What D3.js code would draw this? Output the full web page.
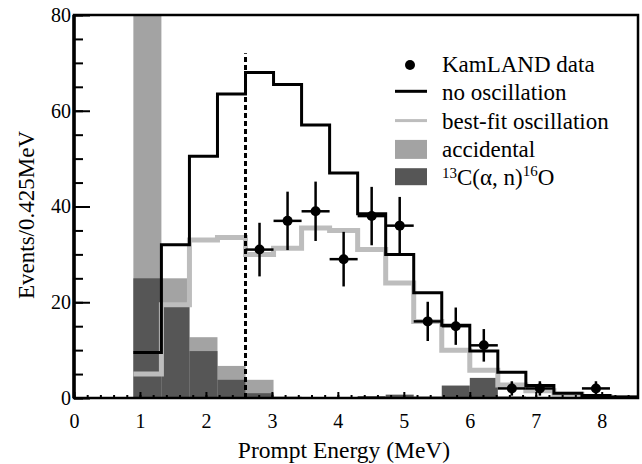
<!DOCTYPE html>
<html lang="en">
<head>
<meta charset="utf-8">
<title>KamLAND prompt energy spectrum</title>
<script src="https://d3js.org/d3.v7.min.js"></script>
<style>
  body { margin: 0; background: #fff; }
  svg text { font-family: "Liberation Serif", "DejaVu Serif", serif; fill: #000; }
  .axis path { display: none; }
  .axis line { stroke: #000; stroke-width: 2px; }
  .axis text { font-size: 20px; }
</style>
</head>
<body>
<div id="chart"></div>
<script>
// bin edges in MeV (0.425 MeV bins)
var binEdges = [0.9, 1.325, 1.75, 2.175, 2.6, 3.025, 3.45, 3.875, 4.3, 4.725,
                5.15, 5.575, 6.0, 6.425, 6.85, 7.275, 7.7, 8.125, 8.55];

// expected events per bin
var noOscillation = [9.5, 32, 50.5, 63.5, 68, 65.5, 57, 47, 38.5, 30, 22, 15.2, 9.8, 5.4, 2.6, 1.0, 0.5, 0.2];
var bestFit       = [5, 19.5, 33, 33.5, 30, 31.3, 35.5, 35, 31, 24, 16, 10, 5.8, 2.7, 1.5, 0.8, 0.3, 0.1];
var accidental    = [85, 25, 12.7, 6.7, 3.8, 0.3, 0.2, 0.2, 0.2, 0.3, 0.2, 0.1, 0.1, 0.1, 0, 0, 0, 0];
var alphaN        = [25, 19.5, 9.8, 3.8, 1.0, 0.2, 0.1, 0.1, 0.4, 0.7, 0.3, 2.6, 4.2, 0.3, 0.2, 0, 0, 0];

// KamLAND data points
var dataEnergy = [2.8125, 3.2375, 3.6625, 4.0875, 4.5125, 4.9375, 5.3625, 5.7875, 6.2125, 6.6375, 7.0625, 7.9125];
var dataEvents = [31, 37, 39, 29, 38, 36, 16, 15, 11, 2, 2, 2];
var dataError  = [5.6, 6.1, 6.2, 5.7, 6.1, 6.0, 4.1, 3.9, 3.4, 1.5, 1.5, 1.5];
var halfBin = 0.2125;

var threshold = 2.6;
var thresholdTop = 72;

var xTicks = [0, 1, 2, 3, 4, 5, 6, 7, 8];
var yTicks = [0, 20, 40, 60, 80];

var legendLabels = ["KamLAND data", "no oscillation", "best-fit oscillation", "accidental", "13C"];

var W = 642, H = 464;
var margin = {top: 15, left: 74, right: 4, bottom: 66};
var width = W - margin.left - margin.right,
    height = H - margin.top - margin.bottom;

var accColor = "#a3a3a3", alphaColor = "#565656", fitColor = "#bdbdbd";

var svg = d3.select("#chart").append("svg")
    .attr("width", W).attr("height", H);

var g = svg.append("g").attr("transform", "translate(" + margin.left + "," + margin.top + ")");

var x = d3.scaleLinear().domain([0, 8.55]).range([0, width]);
var y = d3.scaleLinear().domain([0, 80]).range([height, 0]);

svg.append("defs").append("clipPath").attr("id", "plotClip")
    .append("rect").attr("width", width).attr("height", height);

var plot = g.append("g").attr("clip-path", "url(#plotClip)");

function bins(values) {
    return values.map(function(v, i) { return {x0: binEdges[i], x1: binEdges[i + 1], v: v}; });
}

// background fills
plot.selectAll("rect.acc").data(bins(accidental)).enter().append("rect")
    .attr("class", "acc")
    .attr("x", function(d) { return x(d.x0); })
    .attr("width", function(d) { return x(d.x1) - x(d.x0); })
    .attr("y", function(d) { return y(d.v); })
    .attr("height", function(d) { return height - y(d.v); })
    .attr("fill", accColor);

plot.selectAll("rect.an").data(bins(alphaN)).enter().append("rect")
    .attr("class", "an")
    .attr("x", function(d) { return x(d.x0); })
    .attr("width", function(d) { return x(d.x1) - x(d.x0); })
    .attr("y", function(d) { return y(d.v); })
    .attr("height", function(d) { return height - y(d.v); })
    .attr("fill", alphaColor);

// step histograms
function stepPoints(values) {
    var pts = values.map(function(v, i) { return [binEdges[i], v]; });
    pts.push([binEdges[binEdges.length - 1], 0]);
    return pts;
}
var step = d3.line()
    .x(function(d) { return x(d[0]); })
    .y(function(d) { return y(d[1]); })
    .curve(d3.curveStepAfter);

plot.append("path").datum(stepPoints(bestFit))
    .attr("d", step).attr("fill", "none")
    .attr("stroke", fitColor).attr("stroke-width", 5);

plot.append("path").datum(stepPoints(noOscillation))
    .attr("d", step).attr("fill", "none")
    .attr("stroke", "#000").attr("stroke-width", 3);

// analysis threshold
g.append("line")
    .attr("x1", x(threshold)).attr("x2", x(threshold))
    .attr("y1", y(0)).attr("y2", y(thresholdTop))
    .attr("stroke", "#000").attr("stroke-width", 3)
    .attr("stroke-dasharray", "5,3");

// data points with error bars
var pts = g.selectAll("g.pt").data(dataEnergy).enter().append("g").attr("class", "pt");
pts.append("line")
    .attr("x1", function(d) { return x(d); }).attr("x2", function(d) { return x(d); })
    .attr("y1", function(d, i) { return y(dataEvents[i] + dataError[i]); })
    .attr("y2", function(d, i) { return y(Math.max(0, dataEvents[i] - dataError[i])); })
    .attr("stroke", "#000").attr("stroke-width", 2.5);
pts.append("line")
    .attr("x1", function(d) { return x(d - halfBin); }).attr("x2", function(d) { return x(d + halfBin); })
    .attr("y1", function(d, i) { return y(dataEvents[i]); })
    .attr("y2", function(d, i) { return y(dataEvents[i]); })
    .attr("stroke", "#000").attr("stroke-width", 2.5);
pts.append("circle")
    .attr("cx", function(d) { return x(d); })
    .attr("cy", function(d, i) { return y(dataEvents[i]); })
    .attr("r", 5).attr("fill", "#000");

// axes (inward ticks)
g.append("g").attr("class", "axis")
    .attr("transform", "translate(0," + height + ")")
    .call(d3.axisBottom(x).tickValues(d3.range(0, 8.55, 0.2)).tickSize(-3).tickFormat(""));
g.append("g").attr("class", "axis")
    .attr("transform", "translate(0," + height + ")")
    .call(d3.axisBottom(x).tickValues(xTicks).tickSize(-6).tickPadding(16).tickFormat(d3.format("d")));

g.append("g").attr("class", "axis")
    .call(d3.axisLeft(y).tickValues(d3.range(0, 81, 5)).tickSize(-9).tickFormat(""));
g.append("g").attr("class", "axis")
    .call(d3.axisLeft(y).tickValues(yTicks).tickSize(-16).tickPadding(3).tickFormat(d3.format("d")));

// frame
g.append("rect").attr("width", width).attr("height", height)
    .attr("fill", "none").attr("stroke", "#000").attr("stroke-width", 2.5);
g.append("line").attr("x1", 0).attr("x2", 0).attr("y1", 0).attr("y2", height)
    .attr("stroke", "#000").attr("stroke-width", 3.5);

// axis titles
svg.append("text")
    .attr("x", margin.left + width / 2 - 12).attr("y", 458)
    .attr("text-anchor", "middle").style("font-size", "23.5px")
    .text("Prompt Energy (MeV)");
svg.append("text")
    .attr("transform", "translate(34,215) rotate(-90)")
    .attr("text-anchor", "middle").style("font-size", "23px")
    .text("Events/0.425MeV");

// legend
var lg = svg.append("g").attr("transform", "translate(395,0)");
var rowY = function(i) { return 72 + i * 28.3; };
lg.append("circle").attr("cx", 15).attr("cy", rowY(0) - 7).attr("r", 5).attr("fill", "#000");
lg.append("line").attr("x1", 0).attr("x2", 32).attr("y1", rowY(1) - 9).attr("y2", rowY(1) - 9)
    .attr("stroke", "#000").attr("stroke-width", 3);
lg.append("line").attr("x1", 0).attr("x2", 32).attr("y1", rowY(2) - 8).attr("y2", rowY(2) - 8)
    .attr("stroke", fitColor).attr("stroke-width", 3);
lg.append("rect").attr("x", 0).attr("y", rowY(3) - 17).attr("width", 32).attr("height", 19).attr("fill", accColor);
lg.append("rect").attr("x", 0).attr("y", rowY(4) - 17).attr("width", 32).attr("height", 17).attr("fill", alphaColor);

legendLabels.forEach(function(label, i) {
    var t = lg.append("text").attr("x", 47).attr("y", rowY(i)).style("font-size", "23px");
    if (i < 4) {
        t.text(label);
    } else {
        t.append("tspan").attr("dy", -7).style("font-size", "15px").text("13");
        t.append("tspan").attr("dy", 7).text("C(\u03b1, n)");
        t.append("tspan").attr("dy", -9).style("font-size", "15px").text("16");
        t.append("tspan").attr("dy", 9).text("O");
    }
});
</script>
</body>
</html>
